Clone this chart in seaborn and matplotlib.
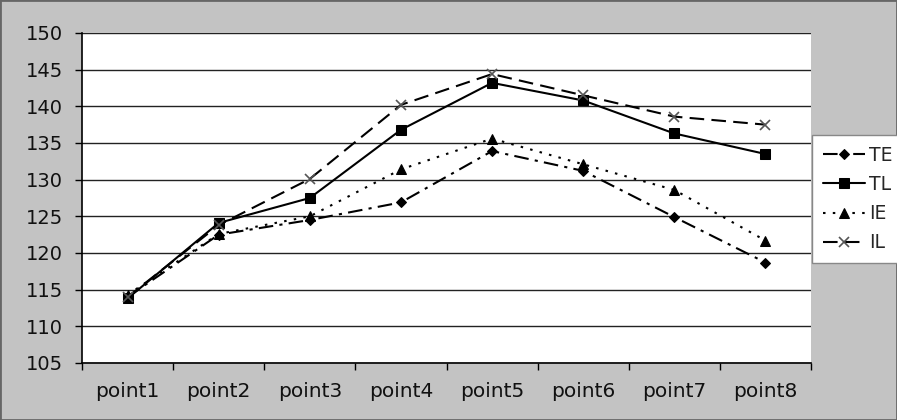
import matplotlib
matplotlib.use("Agg")
import matplotlib.pyplot as plt
import seaborn as sns
import pandas as pd
from matplotlib.patches import Rectangle

categories = ["point1", "point2", "point3", "point4", "point5", "point6", "point7", "point8"]
TE = [114.0, 122.5, 124.5, 126.9, 133.9, 131.2, 124.9, 118.7]
TL = [113.8, 124.1, 127.5, 136.8, 143.2, 140.8, 136.3, 133.5]
IE = [114.3, 122.6, 125.0, 131.4, 135.6, 132.1, 128.6, 121.7]
IL = [114.0, 123.8, 130.1, 140.2, 144.4, 141.5, 138.6, 137.5]
series_names = ["TE", "TL", "IE", "IL"]
yticks = [105, 110, 115, 120, 125, 130, 135, 140, 145, 150]

sns.set_theme(style="white")
plt.rcParams['font.family'] = ['DejaVu Sans']

bg = "#c3c3c3"
fig = plt.figure(figsize=(8.97, 4.2), dpi=100, facecolor=bg)
ax = fig.add_axes([82/897, 1-363/420, (811-82)/897, (363-33)/420])
ax.set_facecolor("white")

styles = {
    "TE": dict(linestyle=(0, (7, 3, 1.5, 3)), marker="D", markersize=5.5, color="black", mfc="black", mec="black"),
    "TL": dict(linestyle="-", marker="s", markersize=7.5, color="black", mfc="black", mec="black"),
    "IE": dict(linestyle=(0, (1.2, 3.5)), marker="^", markersize=7.5, color="black", mfc="black", mec="black"),
    "IL": dict(linestyle=(0, (7, 3.5)), marker="x", markersize=7.5, color="black", mfc="none", mec="#555555", mew=1.2),
}
data = {"TE": TE, "TL": TL, "IE": IE, "IL": IL}

handles = []
for name in series_names:
    df = pd.DataFrame({"x": categories, "y": data[name]})
    sns.lineplot(data=df, x="x", y="y", ax=ax, linewidth=1.5, sort=False, label=None, legend=False, **styles[name])
    handles.append(ax.lines[-1])

ax.set_xlim(-0.5, len(categories) - 0.5)
ax.set_ylim(105, 150)
ax.set_yticks(yticks)
ax.yaxis.grid(True, color="#222222", linewidth=1.0)
ax.set_axisbelow(True)
ax.set_xlabel("")
ax.set_ylabel("")

ax.set_xticks(range(len(categories)))
ax.set_xticklabels(categories, fontsize=14.5, color="#111111")
ax.set_xticks([i - 0.5 for i in range(len(categories) + 1)], minor=True)
ax.tick_params(axis="x", which="major", length=0, pad=14)
ax.tick_params(axis="x", which="minor", length=5, width=1, color="black", direction="out", bottom=True)
ax.tick_params(axis="y", which="major", length=5, width=1, color="black", direction="out", left=True, labelsize=14, labelcolor="#111111", pad=8.5)

for s in ["left", "bottom"]:
    ax.spines[s].set_color("black")
    ax.spines[s].set_linewidth(1.2)
ax.spines["top"].set_visible(False)
ax.spines["right"].set_visible(False)

leg = fig.legend(handles, series_names, loc="center left",
                 bbox_to_anchor=(803/897, 1-199/420), bbox_transform=fig.transFigure,
                 fontsize=13.5, frameon=True, fancybox=False, edgecolor="#888888",
                 facecolor="white", framealpha=1, handlelength=2.25, handletextpad=0.2,
                 labelspacing=0.55, borderpad=0.55, markerscale=0.9)
leg.get_frame().set_linewidth(1.0)

fig.patches.append(Rectangle((0, 0), 1, 1, transform=fig.transFigure, fill=False,
                             edgecolor="#666666", linewidth=2))

fig.savefig("out.png", dpi=100, facecolor=bg)
